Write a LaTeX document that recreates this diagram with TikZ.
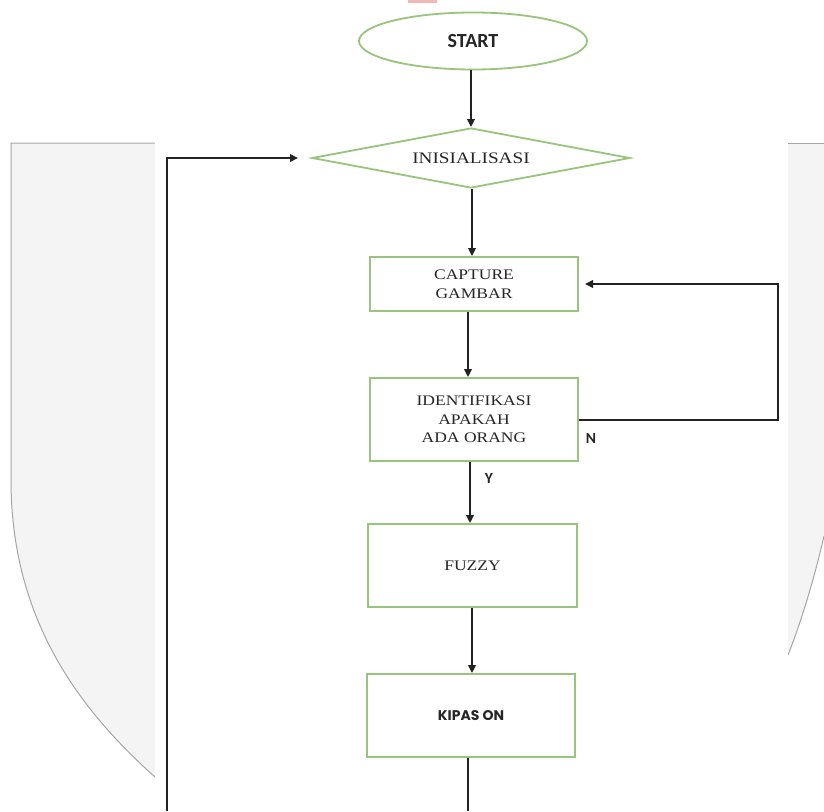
\documentclass[tikz,border=0pt]{standalone}
\usepackage{fontspec}
\setmainfont{Liberation Serif}
\newfontfamily\wideserif[FakeStretch=1.2]{Liberation Serif}
\newfontfamily\calibri{Carlito}
\newfontfamily\gothic{Poppins}
\usetikzlibrary{shapes.geometric,arrows.meta}
\definecolor{boxgreen}{HTML}{98C47C}
\definecolor{bgfill}{HTML}{F4F4F4}
\definecolor{bgline}{HTML}{A6A6A6}
\definecolor{linec}{HTML}{222222}
\definecolor{txt}{HTML}{262626}
\definecolor{pinkmark}{HTML}{F2B8B8}
\tikzset{
  greenbox/.style={draw=boxgreen,line width=1.8pt,rectangle,inner sep=0pt,align=center,text=txt},
  procbox/.style={greenbox,minimum width=208pt},
  flow/.style={draw=linec,line width=2pt,-{Triangle[length=8pt,width=7.5pt]}},
  plainline/.style={draw=linec,line width=2pt},
  lbl/.style={font=\calibri\bfseries\fontsize{15.5}{17}\selectfont,text=txt,inner sep=0pt},
  serift/.style={font=\wideserif\fontsize{14.6}{18.5}\selectfont}
}
\begin{document}
\begin{tikzpicture}[x=1pt,y=-1pt]
\useasboundingbox (0,0) rectangle (824,811);
% background shield shapes
\fill[bgfill] (11,143) -- (155,143) -- (155,777) .. controls (80,710) and (11,620) .. (11,480) -- cycle;
\draw[bgline,line width=1pt] (155,143) -- (11,143) -- (11,480) .. controls (11,620) and (80,710) .. (155,777);
\fill[bgfill] (788,143) -- (824,143) -- (824,536) .. controls (814,580) and (800,625) .. (788,655) -- cycle;
\draw[bgline,line width=1pt] (788,143) -- (824,143);
\draw[bgline,line width=1pt] (824,536) .. controls (814,580) and (800,625) .. (788,655);
\fill[white] (155,0) rectangle (788,811);
\fill[pinkmark] (408,0) rectangle (437,2.5);
% nodes
\node[greenbox,ellipse,minimum width=228pt,minimum height=57pt,font=\calibri\bfseries\fontsize{20}{22}\selectfont] (start) at (473,41) {START};
\node[greenbox,diamond,aspect=5.3,minimum width=318pt,minimum height=60pt,font=\wideserif\fontsize{16}{18}\selectfont] (init) at (471,158) {INISIALISASI};
\node[procbox,minimum height=54pt,serift] (cap) at (474,284) {CAPTURE\\GAMBAR};
\node[procbox,minimum height=83pt,serift] (ident) at (474,419.5) {IDENTIFIKASI\\APAKAH\\ADA ORANG};
\node[procbox,minimum width=209pt,minimum height=83pt,serift] (fuzzy) at (472.5,565.5) {FUZZY};
\node[procbox,minimum height=83pt,font=\gothic\bfseries\fontsize{14}{16}\selectfont] (kipas) at (471,715.5) {KIPAS ON};
% labels
\node[lbl] (ylbl) at (489,478) {Y};
\node[lbl] (nlbl) at (591,438) {N};
% helper coordinates
\coordinate (kb) at (468,811);
\coordinate (lb) at (167,811);
\coordinate (lt) at (167,158);
\coordinate (ltip) at (298,158);
\coordinate (nr) at (778,420);
\coordinate (nt) at (778,284);
\coordinate (ntip) at (585,284);
% connectors
\draw[flow] (start.south -| 471,0) -- (init.north);
\draw[flow] (init.south -| 472,0) -- (cap.north -| 472,0);
\draw[flow] (cap.south -| 468,0) -- (ident.north -| 468,0);
\draw[flow] (ident.south -| 470,0) -- (fuzzy.north -| 470,0);
\draw[flow] (fuzzy.south -| 472,0) -- (kipas.north -| 472,0);
\draw[plainline] (kipas.south -| kb) -- (kb);
\draw[flow] (lb) -- (lt) -- (ltip);
\draw[flow] (ident.east |- nr) -- (nr) -- (nt) -- (ntip);
\end{tikzpicture}
\end{document}
